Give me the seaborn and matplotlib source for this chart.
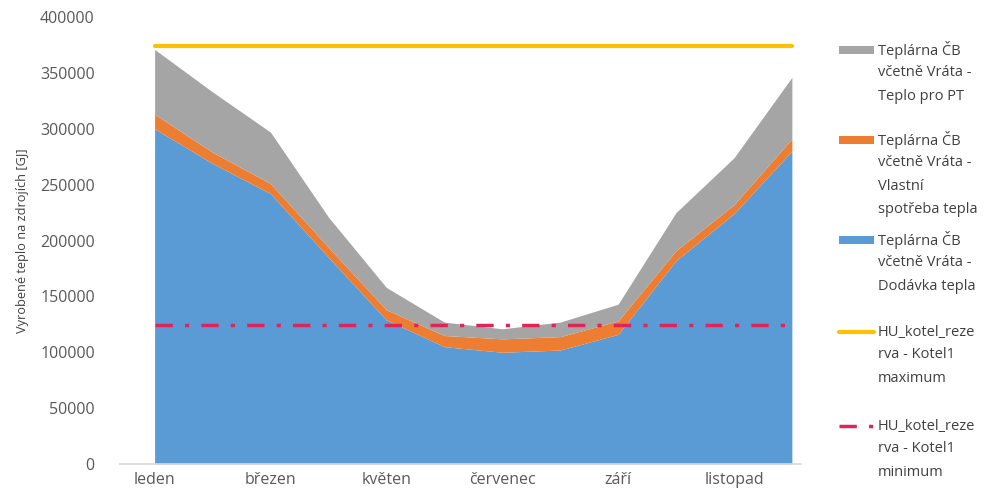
import numpy as np
import pandas as pd
import matplotlib
matplotlib.use("Agg")
import matplotlib.pyplot as plt
from matplotlib.patches import Rectangle
from matplotlib.lines import Line2D
import seaborn as sns

months = ["leden", "únor", "březen", "duben", "květen", "červen",
          "červenec", "srpen", "září", "říjen", "listopad", "prosinec"]
dodavka = [300000, 269000, 242000, 185000, 129000, 105000,
           100000, 102000, 116000, 182000, 224000, 280000]
vlastni = [13000, 10000, 9000, 9000, 9000, 10000,
           12000, 12000, 12000, 9000, 8000, 11000]
teplo_pt = [58000, 54000, 46000, 27000, 20000, 12000,
            9000, 13000, 15000, 34000, 42000, 55000]
kotel_max = [374000] * 12
kotel_min = [124000] * 12

labels = [
    "Teplárna ČB\nvčetně Vráta -\nTeplo pro PT",
    "Teplárna ČB\nvčetně Vráta -\nVlastní\nspotřeba tepla",
    "Teplárna ČB\nvčetně Vráta -\nDodávka tepla",
    "HU_kotel_reze\nrva - Kotel1\nmaximum",
    "HU_kotel_reze\nrva - Kotel1\nminimum",
]

c_blue, c_orange, c_gray = "#5B9BD5", "#ED7D31", "#A5A5A5"
c_yellow, c_red = "#FFC000", "#E0245A"
txt = "#595959"
dashdot = (0, (5, 3.5, 1.2, 3.5))

sns.set_theme(style="white")
plt.rcParams["font.family"] = ["Open Sans", "DejaVu Sans"]

W, H = 1007, 493
fig = plt.figure(figsize=(W / 100, H / 100), dpi=100)
ax = fig.add_axes([0.119, 0.0588, 0.676, 0.9067])

x = np.arange(len(months))
ax.stackplot(x, dodavka, vlastni, teplo_pt,
             colors=[c_blue, c_orange, c_gray], linewidth=0)

lines = pd.DataFrame({"x": np.concatenate([x, x]),
                      "y": kotel_max + kotel_min,
                      "s": ["max"] * 12 + ["min"] * 12})
sns.lineplot(data=lines[lines.s == "max"], x="x", y="y", ax=ax,
             color=c_yellow, linewidth=3, legend=False)
sns.lineplot(data=lines[lines.s == "min"], x="x", y="y", ax=ax,
             color=c_red, linewidth=2.5, legend=False, linestyle=dashdot)

ax.set_xlim(-0.6, 11.15)
ax.set_ylim(0, 400000)
ax.set_yticks(np.arange(0, 400001, 50000))
ax.set_yticklabels([f"{v}" for v in range(0, 400001, 50000)],
                   fontsize=11.5, color=txt)
ax.set_xticks(x[::2])
ax.set_xticklabels(months[::2], fontsize=11.5, color=txt)
ax.tick_params(axis="y", length=0, pad=18)
ax.tick_params(axis="x", length=0, pad=6)
ax.set_xlabel("")
ax.set_ylabel("Vyrobené teplo na zdrojích [GJ]", fontsize=9.2, color="#404040",
              labelpad=8)
for s in ["top", "right", "left"]:
    ax.spines[s].set_visible(False)
ax.spines["bottom"].set_color("#D9D9D9")

# legend drawn by hand so each key sits beside the first line of its label
first_line_y = [50, 140, 240, 332, 426]
line_step = 23
hx0, hx1, tx = 839, 874, 878
for i, (lab, yy) in enumerate(zip(labels, first_line_y)):
    fy = 1 - yy / H
    if i < 3:
        col = [c_gray, c_orange, c_blue][i]
        fig.add_artist(Rectangle((hx0 / W, fy - 3.5 / H), (hx1 - hx0) / W, 7 / H,
                                 transform=fig.transFigure, facecolor=col,
                                 edgecolor="none"))
    elif i == 3:
        fig.add_artist(Line2D([hx0 / W, hx1 / W], [fy, fy], transform=fig.transFigure,
                              color=c_yellow, linewidth=3))
    else:
        fig.add_artist(Line2D([hx0 / W, hx1 / W], [fy, fy], transform=fig.transFigure,
                              color=c_red, linewidth=2.5, linestyle=dashdot))
    for j, part in enumerate(lab.split("\n")):
        fig.text(tx / W, 1 - (yy + j * line_step) / H, part, fontsize=10.5,
                 color="#404040", ha="left", va="center")

fig.savefig("out.png", dpi=100)
